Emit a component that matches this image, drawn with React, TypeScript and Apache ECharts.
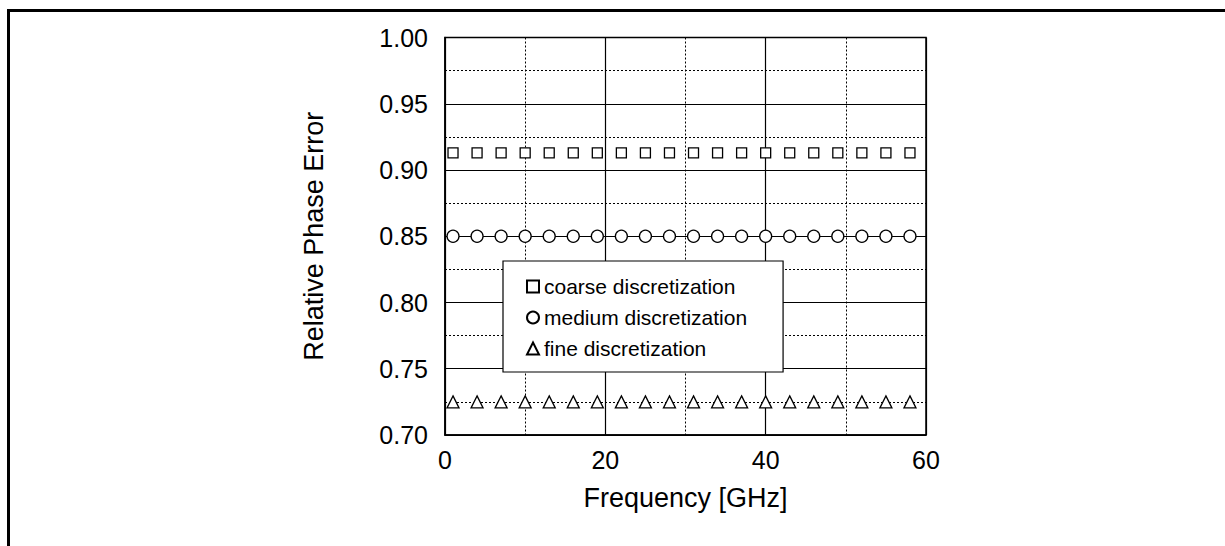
import React, { useEffect, useRef } from "react";
import * as echarts from "echarts";

const frequency = [1, 4, 7, 10, 13, 16, 19, 22, 25, 28, 31, 34, 37, 40, 43, 46, 49, 52, 55, 58];
const coarse = [0.913, 0.913, 0.913, 0.913, 0.913, 0.913, 0.913, 0.913, 0.913, 0.913, 0.913, 0.913, 0.913, 0.913, 0.913, 0.913, 0.913, 0.913, 0.913, 0.913];
const medium = [0.85, 0.85, 0.85, 0.85, 0.85, 0.85, 0.85, 0.85, 0.85, 0.85, 0.85, 0.85, 0.85, 0.85, 0.85, 0.85, 0.85, 0.85, 0.85, 0.85];
const fine = [0.725, 0.725, 0.725, 0.725, 0.725, 0.725, 0.725, 0.725, 0.725, 0.725, 0.725, 0.725, 0.725, 0.725, 0.725, 0.725, 0.725, 0.725, 0.725, 0.725];
const seriesNames = ["coarse discretization", "medium discretization", "fine discretization"];
const xTitle = "Frequency [GHz]";
const yTitle = "Relative Phase Error";

const FONT = "'Liberation Sans', Arial, Helvetica, sans-serif";

export default function App() {
  const ref = useRef<HTMLDivElement>(null);
  useEffect(() => {
    document.body.style.margin = "0";
    if (!ref.current) return;
    const chart = echarts.init(ref.current, null, { renderer: "svg" });
    const mk = (name: string, vals: number[], symbol: string, size: number) => ({
      name,
      type: "scatter",
      symbol,
      symbolSize: size,
      data: frequency.map((f, i) => [f, vals[i]]),
      itemStyle: { color: "#fff", borderColor: "#000", borderWidth: 1.3, opacity: 1 },
      z: 3,
    });
    chart.setOption({
      animation: false,
      backgroundColor: "#fff",
      textStyle: { fontFamily: FONT },
      grid: {
        left: 445,
        top: 37.5,
        right: 299,
        bottom: 111,
        show: true,
        borderColor: "#000",
        borderWidth: 1.5,
        backgroundColor: "transparent",
      },
      xAxis: {
        type: "value",
        min: 0,
        max: 60,
        interval: 20,
        name: xTitle,
        nameLocation: "middle",
        nameGap: 49,
        nameTextStyle: { fontSize: 27, color: "#000", fontFamily: FONT },
        axisLine: { show: true, lineStyle: { color: "#000", width: 1.5 } },
        axisTick: { show: false },
        axisLabel: { fontSize: 25, color: "#000", margin: 12, fontFamily: FONT },
        splitLine: { show: true, lineStyle: { color: "#000", width: 1.2, type: "solid" } },
        minorTick: { show: false, splitNumber: 2 },
        minorSplitLine: { show: true, lineStyle: { color: "#000", width: 1, type: [2, 2] } },
      },
      yAxis: {
        type: "value",
        min: 0.7,
        max: 1.0,
        interval: 0.05,
        name: yTitle,
        nameLocation: "middle",
        nameGap: 118,
        nameTextStyle: { fontSize: 27, color: "#000", fontFamily: FONT },
        axisLine: { show: true, lineStyle: { color: "#000", width: 1.5 } },
        axisTick: { show: false },
        axisLabel: {
          fontSize: 25,
          color: "#000",
          margin: 17,
          fontFamily: FONT,
          formatter: (v: number) => v.toFixed(2),
        },
        splitLine: { show: true, lineStyle: { color: "#000", width: 1.2, type: "solid" } },
        minorTick: { show: false, splitNumber: 2 },
        minorSplitLine: { show: true, lineStyle: { color: "#000", width: 1, type: [2, 2] } },
      },
      legend: {
        orient: "vertical",
        left: 503,
        top: 261,
        padding: [15, 36, 13, 23],
        itemWidth: 12,
        itemHeight: 12,
        itemGap: 10,
        itemTextGap: 12,
        backgroundColor: "#fff",
        borderColor: "#000",
        borderWidth: 1.2,
        borderRadius: 0,
        textStyle: { fontSize: 21, color: "#000", fontFamily: FONT },
        data: seriesNames,
        z: 10,
      },
      series: [
        mk(seriesNames[0], coarse, "rect", 10),
        mk(seriesNames[1], medium, "circle", 12),
        mk(seriesNames[2], fine, "triangle", 12),
      ],
      graphic: [
        {
          type: "polyline",
          shape: { points: [[8.5, 546], [8.5, 10.5], [1225, 10.5]] },
          style: { stroke: "#000", lineWidth: 3, fill: "none" },
          silent: true,
        },
      ],
    });
    return () => chart.dispose();
  }, []);
  return <div ref={ref} style={{ width: 1225, height: 546 }} />;
}
